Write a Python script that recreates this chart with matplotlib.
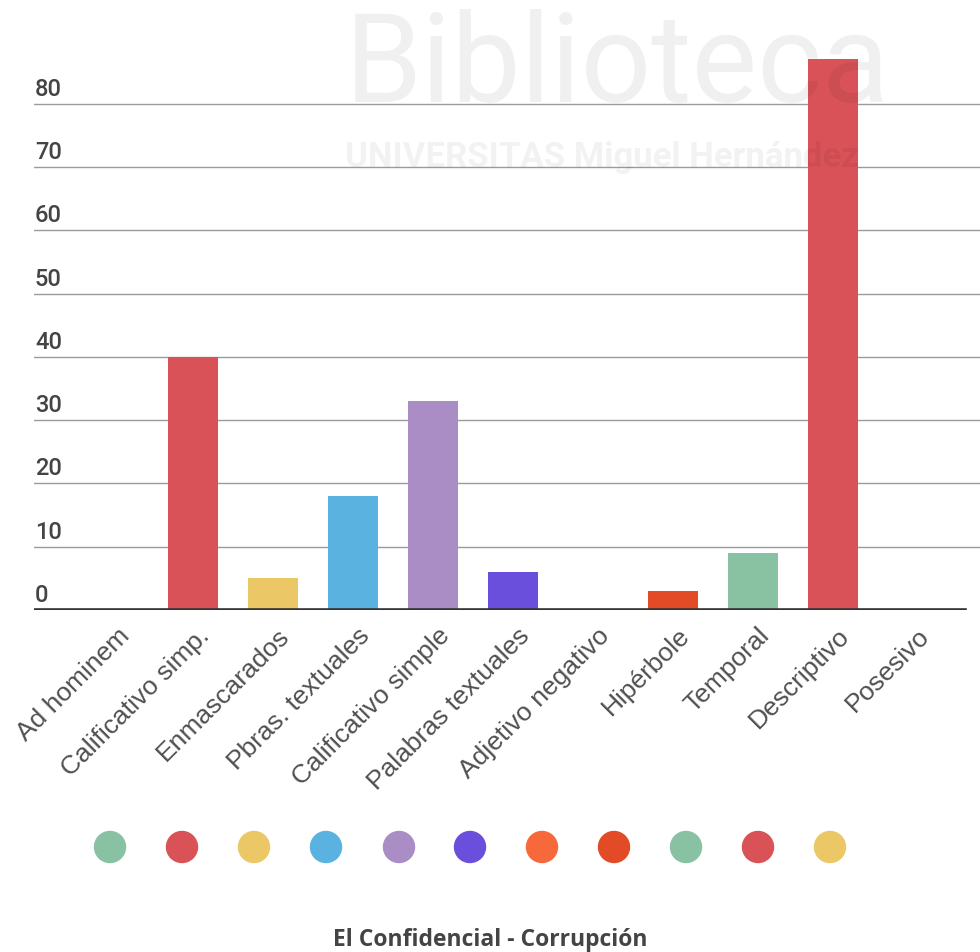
import matplotlib
matplotlib.use("Agg")
import matplotlib.pyplot as plt
import matplotlib.transforms as mtransforms
from matplotlib.patches import Ellipse

plt.rcParams['font.family'] = ['Roboto', 'DejaVu Sans']

categories = ["Ad hominem", "Calificativo simp.", "Enmascarados", "Pbras. textuales",
              "Calificativo simple", "Palabras textuales", "Adjetivo negativo",
              "Hipérbole", "Temporal", "Descriptivo", "Posesivo"]
values = [0, 40, 5, 18, 33, 6, 0, 3, 9, 87, 0]
colors = ["#88c2a3", "#d95258", "#ecc766", "#5ab2e0", "#a98dc4", "#6a4fdc",
          "#f7693a", "#e24b25", "#88c2a3", "#d95258", "#ecc766"]
yticks = [0, 10, 20, 30, 40, 50, 60, 70, 80]
title = "El Confidencial - Corrupción"

W, H = 980, 953
fig = plt.figure(figsize=(W / 100, H / 100), dpi=100)

left_px, right_px = 34, 980
bottom_px, top_px = 611, 41.5
ax = fig.add_axes([left_px / W, 1 - bottom_px / H,
                   (right_px - left_px) / W, (bottom_px - top_px) / H])
ax.patch.set_alpha(0)

c0, step = 113, 80
ax.set_xlim(-(c0 - left_px) / step, (right_px - c0) / step)
ax.set_ylim(0, 90)

x = list(range(len(categories)))
ax.bar(x, values, width=50 / step, color=colors, zorder=3)

for v in yticks[1:]:
    ax.axhline(v, color="#9a9a9a", lw=1.0, zorder=1)
ax.axhline(0, xmin=0, xmax=(965 - left_px) / (right_px - left_px),
           color="#333333", lw=2.6, zorder=4)

for s in ax.spines.values():
    s.set_visible(False)
ax.set_xticks([])
ax.set_yticks([])

# y labels above gridlines
ytrans = mtransforms.blended_transform_factory(ax.transAxes, ax.transData)
for v in yticks:
    ax.annotate(str(v), xy=(0.001, v), xycoords=ytrans, xytext=(0, 4),
                textcoords="offset pixels", ha="left", va="bottom",
                fontsize=17, color="#444444", fontweight="medium")

# x labels rotated
xtrans = mtransforms.blended_transform_factory(ax.transData, ax.transAxes)
for i, lab in enumerate(categories):
    ax.annotate(lab, xy=(i, 0), xycoords=xtrans, xytext=(13, -21),
                textcoords="offset pixels", ha="right", va="center",
                rotation=45, rotation_mode="anchor",
                fontsize=19, color="#505050", family=["Liberation Sans", "DejaVu Sans"])

# legend dots
dot_x = [110, 182, 254, 326, 399, 470, 542, 614, 686, 758, 830]
for cx, col in zip(dot_x, colors):
    fig.patches.append(Ellipse(
        (cx / W, 1 - 848 / H), 31 / W, 31 / H, transform=fig.transFigure,
        color=col, figure=fig))

fig.text(490 / W, 1 - 940 / H, title, ha="center", va="center",
         fontsize=16.5, fontweight="bold", color="#444444",
         family=["Open Sans", "DejaVu Sans"])

# watermark (faint, over the chart)
fig.text(345 / W, 1 - 68 / H, "Biblioteca", fontsize=89, color="black", alpha=0.06,
         ha="left", va="center", zorder=10)
fig.text(345 / W, 1 - 158 / H, "UNIVERSITAS Miguel Hernández", fontsize=25,
         color="black", alpha=0.05, ha="left", va="center", fontweight="bold",
         zorder=10)

fig.savefig("out.png", dpi=100, facecolor="white")
